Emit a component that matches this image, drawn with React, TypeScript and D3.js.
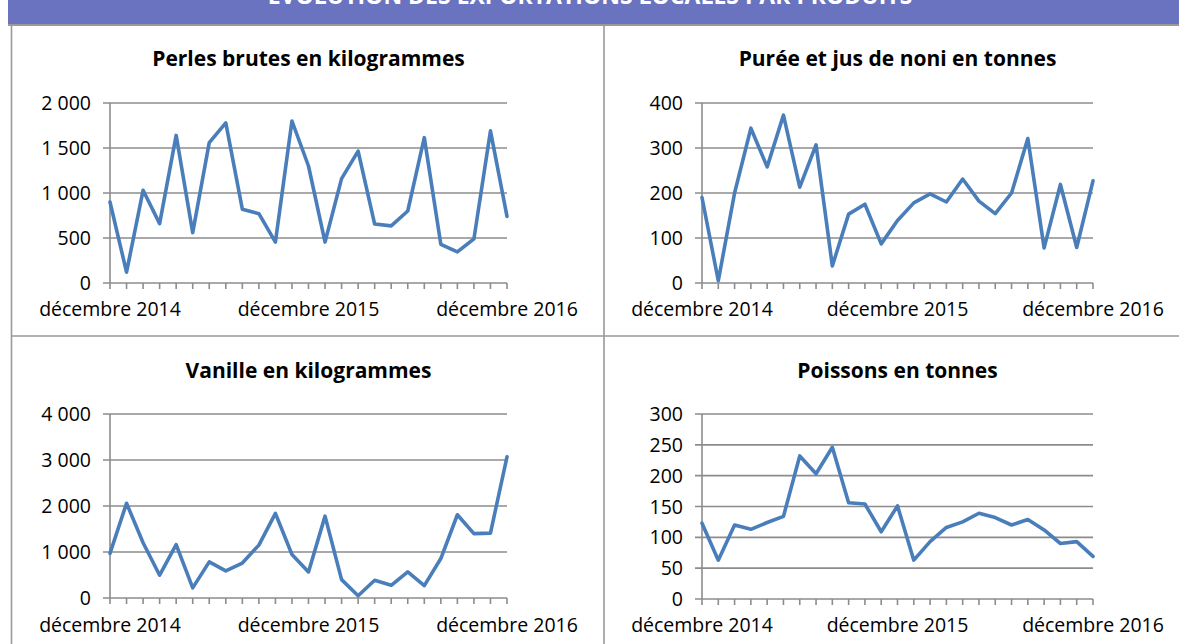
import React from "react";
import * as d3 from "d3";

const months = [
  "2014-12", "2015-01", "2015-02", "2015-03", "2015-04", "2015-05", "2015-06",
  "2015-07", "2015-08", "2015-09", "2015-10", "2015-11", "2015-12", "2016-01",
  "2016-02", "2016-03", "2016-04", "2016-05", "2016-06", "2016-07", "2016-08",
  "2016-09", "2016-10", "2016-11", "2016-12",
];
const xLabelMonths = ["2014-12", "2015-12", "2016-12"];
const xLabels = ["décembre 2014", "décembre 2015", "décembre 2016"];

const perles = [900, 120, 1030, 660, 1640, 560, 1560, 1780, 820, 770, 455, 1800, 1300, 455, 1160, 1465, 655, 635, 800, 1615, 430, 345, 490, 1690, 740];
const noni = [190, 5, 200, 344, 258, 373, 213, 307, 38, 153, 175, 87, 139, 178, 198, 180, 231, 182, 154, 200, 321, 78, 219, 79, 227];
const vanille = [970, 2060, 1200, 495, 1160, 220, 785, 590, 760, 1150, 1840, 945, 567, 1780, 400, 50, 385, 276, 567, 270, 858, 1810, 1400, 1410, 3070];
const poissons = [123, 63, 120, 113, 124, 134, 232, 203, 246, 156, 154, 109, 151, 63, 93, 116, 125, 139, 132, 120, 129, 112, 90, 93, 69];

const ticksPerles = [0, 500, 1000, 1500, 2000];
const ticksNoni = [0, 100, 200, 300, 400];
const ticksVanille = [0, 1000, 2000, 3000, 4000];
const ticksPoissons = [0, 50, 100, 150, 200, 250, 300];

const titlePerles = "Perles brutes en kilogrammes";
const titleNoni = "Purée et jus de noni en tonnes";
const titleVanille = "Vanille en kilogrammes";
const titlePoissons = "Poissons en tonnes";
const mainTitle = "ÉVOLUTION DES EXPORTATIONS LOCALES PAR PRODUITS";

const FONT = "'Open Sans', 'DejaVu Sans', sans-serif";
const LINE = "#4A7EBB";
const GRID = "#8C8C8C";

const fmt = (v: number) => d3.format(",")(v).replace(/,/g, " ");

type PanelProps = {
  title: string;
  values: number[];
  ticks: number[];
  x0: number;
  x1: number;
  yTop: number;
  yBot: number;
  titleY: number;
  labelY: number;
};

function Panel({ title, values, ticks, x0, x1, yTop, yBot, titleY, labelY }: PanelProps) {
  const x = d3.scalePoint<string>().domain(months).range([x0, x1]);
  const y = d3
    .scaleLinear()
    .domain([0, ticks[ticks.length - 1]])
    .range([yBot, yTop]);
  const line = d3
    .line<number>()
    .x((_, i) => x(months[i]) as number)
    .y((d) => y(d));
  return (
    <g>
      <text
        x={(x0 + x1) / 2}
        y={titleY}
        textAnchor="middle"
        fontFamily={FONT}
        fontWeight="bold"
        fontSize={21}
        fill="#000"
      >
        {title}
      </text>
      {ticks.map((t) => (
        <g key={t}>
          <line x1={x0 - 7} x2={x1} y1={y(t)} y2={y(t)} stroke={GRID} strokeWidth={1.6} />
          <text
            x={x0 - 19}
            y={y(t)}
            dy="0.36em"
            textAnchor="end"
            fontFamily={FONT}
            fontSize={19.5}
            fill="#000"
          >
            {fmt(t)}
          </text>
        </g>
      ))}
      <line x1={x0} x2={x0} y1={yTop} y2={yBot} stroke={GRID} strokeWidth={1.6} />
      {months.map((m) => (
        <line
          key={m}
          x1={x(m)}
          x2={x(m)}
          y1={yBot}
          y2={yBot + 6}
          stroke={GRID}
          strokeWidth={1.6}
        />
      ))}
      {xLabelMonths.map((m, i) => (
        <text
          key={m}
          x={x(m)}
          y={labelY}
          textAnchor="middle"
          fontFamily={FONT}
          fontSize={19.5}
          fill="#000"
        >
          {xLabels[i]}
        </text>
      ))}
      <path
        d={line(values) || ""}
        fill="none"
        stroke={LINE}
        strokeWidth={3.6}
        strokeLinejoin="round"
        strokeLinecap="round"
      />
    </g>
  );
}

export default function App() {
  return (
    <div style={{ position: "absolute", left: 0, top: 0 }}>
      <svg width={1179} height={644} style={{ display: "block", background: "#fff" }}>
        <rect x={8} y={0} width={1171} height={24} fill="#6A73BF" />
        <text
          x={590}
          y={4}
          textAnchor="middle"
          fontFamily={FONT}
          fontWeight="bold"
          fontSize={23}
          fill="#fff"
        >
          {mainTitle}
        </text>
        <line x1={8} x2={1179} y1={25} y2={25} stroke="#999" strokeWidth={2} />
        <line x1={11.5} x2={11.5} y1={25} y2={644} stroke="#999" strokeWidth={1.6} />
        <line x1={604} x2={604} y1={25} y2={644} stroke="#999" strokeWidth={1.6} />
        <line x1={11} x2={1179} y1={336} y2={336} stroke="#999" strokeWidth={1.6} />
        <Panel title={titlePerles} values={perles} ticks={ticksPerles} x0={110} x1={507} yTop={103} yBot={283} titleY={66} labelY={316} />
        <Panel title={titleNoni} values={noni} ticks={ticksNoni} x0={702} x1={1093} yTop={103} yBot={283} titleY={66} labelY={316} />
        <Panel title={titleVanille} values={vanille} ticks={ticksVanille} x0={110} x1={507} yTop={414} yBot={598} titleY={378} labelY={632} />
        <Panel title={titlePoissons} values={poissons} ticks={ticksPoissons} x0={702} x1={1093} yTop={414} yBot={599} titleY={378} labelY={632} />
      </svg>
    </div>
  );
}
